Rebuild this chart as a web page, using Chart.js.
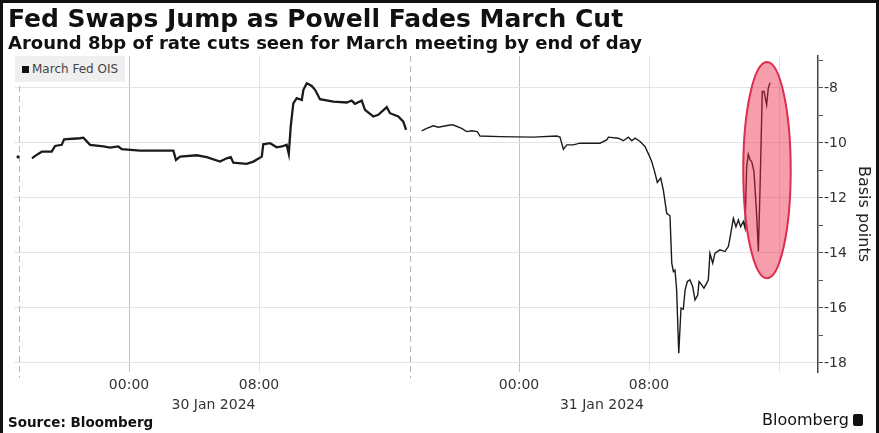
<!DOCTYPE html>
<html>
<head>
<meta charset="utf-8">
<script src="https://cdn.jsdelivr.net/npm/chart.js@4.4.1/dist/chart.umd.min.js"></script>
<style>
  html, body { margin: 0; padding: 0; background: #fff; }
  #wrap { position: relative; width: 879px; height: 433px; overflow: hidden; font-family: "DejaVu Sans", sans-serif; }
  #frame { position: absolute; left: 0; top: 0; width: 879px; height: 433px; box-sizing: border-box;
           border: 3px solid #111; border-bottom: none; pointer-events: none; }
  #title { position: absolute; left: 8px; top: 4px; font-size: 25px; font-weight: bold; color: #111; white-space: nowrap; }
  #subtitle { position: absolute; left: 8px; top: 32px; font-size: 18px; font-weight: bold; color: #111; white-space: nowrap; }
  #legend { position: absolute; left: 15px; top: 56px; width: 110px; height: 26px; background: #efefef;
            font-size: 12px; color: #444; line-height: 26px; white-space: nowrap; }
  #legend i { display: inline-block; width: 7px; height: 7px; background: #111; margin: 0 3px 0 7px; }
  #source { position: absolute; left: 8px; top: 414px; font-size: 13.5px; font-weight: bold; color: #111; }
  #brand { position: absolute; right: 16px; top: 410px; font-size: 16px; color: #111; white-space: nowrap; }
  #brand b { display: inline-block; width: 10px; height: 12px; background: #111; border-radius: 2px; margin-left: 4px; vertical-align: -1px; }
  canvas { position: absolute; left: 0; top: 0; }
</style>
</head>
<body>
<div id="wrap">
  <canvas id="oisChart" width="879" height="433"></canvas>
  <div id="title">Fed Swaps Jump as Powell Fades March Cut</div>
  <div id="subtitle">Around 8bp of rate cuts seen for March meeting by end of day</div>
  <div id="legend"><i></i>March Fed OIS</div>
  <div id="source">Source: Bloomberg</div>
  <div id="brand">Bloomberg<b></b></div>
  <div id="frame"></div>
</div>
<script>
// hours counted from 30 Jan 2024 00:00
const preHours = [-6.83];
const preBp = [-10.51];

const day1Hours = [-5.97, -5.78, -5.37, -4.76, -4.55, -4.14, -4.0, -3.02, -2.81, -2.4,
  -1.58, -1.17, -0.66, -0.45, 0.68, 2.73, 2.89, 3.14, 4.17, 4.78,
  5.6, 6.01, 6.26, 6.42, 7.24, 7.65, 8.17, 8.26, 8.68, 9.09,
  9.4, 9.7, 9.83, 9.95, 10.11, 10.32, 10.63, 10.73, 10.94, 11.24,
  11.45, 11.75, 12.57, 13.4, 13.7, 13.91, 14.32, 14.52, 15.03, 15.34,
  15.86, 16.06, 16.57, 16.88, 17.05];
const day1Bp = [-10.56, -10.47, -10.32, -10.32, -10.11, -10.07, -9.87, -9.83, -9.81, -10.07,
  -10.13, -10.17, -10.13, -10.23, -10.28, -10.28, -10.62, -10.5, -10.45, -10.52,
  -10.68, -10.56, -10.52, -10.72, -10.76, -10.68, -10.5, -10.05, -10.01, -10.16,
  -10.13, -10.07, -10.4, -9.41, -8.56, -8.37, -8.44, -8.07, -7.83, -7.93,
  -8.07, -8.41, -8.5, -8.53, -8.46, -8.58, -8.46, -8.8, -9.04, -8.98,
  -8.7, -8.92, -9.04, -9.23, -9.53];

const day2Hours = [18.01, 18.32, 18.73, 19.03, 19.75, 19.96, 20.47, 20.78, 21.09, 21.43,
  21.6, 22.83, 24.88, 26.32, 26.52, 26.73, 26.94, 27.34, 27.75, 28.98,
  29.4, 29.5, 30.11, 30.42, 30.73, 30.94, 31.14, 31.45, 31.75, 32.02,
  32.17, 32.37, 32.51, 32.72, 32.88, 33.09, 33.29, 33.4, 33.5, 33.6,
  33.7, 33.83, 33.97, 34.11, 34.22, 34.36, 34.52, 34.69, 34.83, 35.0,
  35.08, 35.24, 35.38, 35.55, 35.65, 35.75, 35.92, 36.06, 36.37, 36.68,
  36.88, 36.98, 37.19, 37.35, 37.5, 37.64, 37.8, 37.91, 38.01, 38.11,
  38.22, 38.32, 38.46, 38.63, 38.73, 38.83, 38.97, 39.08, 39.24, 39.34,
  39.45];
const day2Bp = [-9.56, -9.47, -9.38, -9.43, -9.35, -9.35, -9.47, -9.59, -9.56, -9.59,
  -9.75, -9.77, -9.79, -9.75, -9.79, -10.23, -10.07, -10.07, -10.01, -10.01,
  -9.89, -9.79, -9.83, -9.92, -9.79, -9.92, -9.83, -9.95, -10.13, -10.47,
  -10.68, -11.1, -11.44, -11.28, -11.71, -12.56, -12.65, -14.37, -14.68, -14.62,
  -15.35, -17.65, -16.01, -16.05, -15.35, -15.04, -14.98, -15.23, -15.71, -15.53,
  -15.04, -15.16, -15.28, -15.1, -14.98, -14.01, -14.37, -14.01, -13.89, -13.95,
  -13.77, -13.47, -12.74, -13.05, -12.8, -13.05, -12.86, -13.1, -10.86, -10.41,
  -10.62, -10.68, -11.04, -12.68, -13.95, -11.71, -8.13, -8.13, -8.62, -8.01,
  -7.81];

// axis ticks
const xGridHours = [0, 8, 24, 32, 40];
const xTickLabels = { 0: "00:00", 8: "08:00", 24: "00:00", 32: "08:00" };
const dayStartHours = [0, 24];
const sessionBreakHours = [-6.8, 17.3];
const dateHours = [5.2, 29.1];
const dateLabels = ["30 Jan 2024", "31 Jan 2024"];
const yTickValues = [-18, -17, -16, -15, -14, -13, -12, -11, -10, -9, -8, -7];

// highlighted zone (centre and half-widths in data units)
const highlight = { x: 39.26, y: -10.99, rx: 1.46, ry: 3.93 };

const FONT = "DejaVu Sans";

function toPoints(hs, vs) {
  return hs.map((h, i) => ({ x: h, y: vs[i] }));
}

const points = [
  ...toPoints(preHours, preBp),
  { x: (preHours[0] + day1Hours[0]) / 2, y: null },
  ...toPoints(day1Hours, day1Bp),
  { x: (day1Hours[day1Hours.length - 1] + day2Hours[0]) / 2, y: null },
  ...toPoints(day2Hours, day2Bp),
];

// dashed session lines + red ellipse
const overlays = {
  id: "overlays",
  beforeDatasetsDraw(chart) {
    const { ctx, chartArea, scales } = chart;
    ctx.save();
    ctx.strokeStyle = "#b5b5b5";
    ctx.lineWidth = 1;
    ctx.setLineDash([6, 4]);
    sessionBreakHours.forEach((h) => {
      const px = Math.round(scales.x.getPixelForValue(h)) + 0.5;
      ctx.beginPath();
      ctx.moveTo(px, chartArea.top);
      ctx.lineTo(px, chartArea.bottom + 6);
      ctx.stroke();
    });
    ctx.restore();
  },
  afterDatasetsDraw(chart) {
    const { ctx, scales } = chart;
    const cx = scales.x.getPixelForValue(highlight.x);
    const cy = scales.y.getPixelForValue(highlight.y);
    const rx = Math.abs(scales.x.getPixelForValue(highlight.x + highlight.rx) - cx);
    const ry = Math.abs(scales.y.getPixelForValue(highlight.y + highlight.ry) - cy);
    ctx.save();
    ctx.beginPath();
    ctx.ellipse(cx, cy, rx, ry, 0, 0, Math.PI * 2);
    ctx.fillStyle = "rgba(235,40,70,0.45)";
    ctx.fill();
    ctx.lineWidth = 2;
    ctx.strokeStyle = "rgb(222,45,80)";
    ctx.stroke();
    ctx.restore();
  },
};

new Chart(document.getElementById("oisChart").getContext("2d"), {
  type: "line",
  data: {
    datasets: [{
      label: "March Fed OIS",
      data: points,
      borderColor: "#1b1b1b",
      backgroundColor: "#1b1b1b",
      borderWidth: 1.5,
      tension: 0,
      spanGaps: false,
      pointRadius: (c) => (c.dataIndex === 0 ? 1.6 : 0),
      pointBorderWidth: 0,
      segment: { borderWidth: (c) => (c.p0.parsed.x < 17.6 ? 2.3 : 1.4) },
    }],
  },
  options: {
    responsive: false,
    animation: false,
    layout: { padding: { top: 56, left: 14, right: 0, bottom: 16 } },
    plugins: { legend: { display: false }, tooltip: { enabled: false } },
    scales: {
      x: {
        type: "linear",
        min: -7.08,
        max: 42.4,
        weight: 0,
        afterBuildTicks: (s) => { s.ticks = xGridHours.map((v) => ({ value: v })); },
        afterFit: (s) => { s.height = 21; },
        ticks: {
          autoSkip: false, maxRotation: 0, padding: 5, color: "#333",
          font: { family: FONT, size: 14 },
          callback: (v) => xTickLabels[v] || "",
        },
        grid: {
          drawTicks: false,
          color: (c) => (dayStartHours.includes(c.tick && c.tick.value) ? "#c4c4c4" : "#e4e4e4"),
        },
        border: { display: false },
      },
      xDate: {
        type: "linear",
        position: "bottom",
        min: -7.08,
        max: 42.4,
        weight: 1,
        afterBuildTicks: (s) => { s.ticks = dateHours.map((v) => ({ value: v })); },
        afterFit: (s) => { s.height = 24; },
        ticks: {
          autoSkip: false, maxRotation: 0, padding: 4, color: "#333",
          font: { family: FONT, size: 14 },
          callback: (v) => dateLabels[dateHours.indexOf(v)] || "",
        },
        grid: { display: false, drawTicks: false },
        border: { display: false },
      },
      y: {
        position: "right",
        min: -18.33,
        max: -6.84,
        afterBuildTicks: (s) => { s.ticks = yTickValues.map((v) => ({ value: v })); },
        afterFit: (s) => { s.width = 61; },
        ticks: {
          padding: 1, color: "#333",
          font: { family: FONT, size: 14 },
          callback: (v) => (v % 2 === 0 ? String(v) : ""),
        },
        grid: {
          tickLength: 5,
          tickColor: "#555",
          color: (c) => (c.tick && c.tick.value % 2 === 0 ? "#e4e4e4" : "rgba(0,0,0,0)"),
        },
        border: { display: true, color: "#444", width: 1.5 },
        title: {
          display: true, text: "Basis points", color: "#222",
          font: { family: FONT, size: 16 },
          padding: { top: 6, bottom: 0 },
        },
      },
    },
  },
  plugins: [overlays],
});
</script>
</body>
</html>
